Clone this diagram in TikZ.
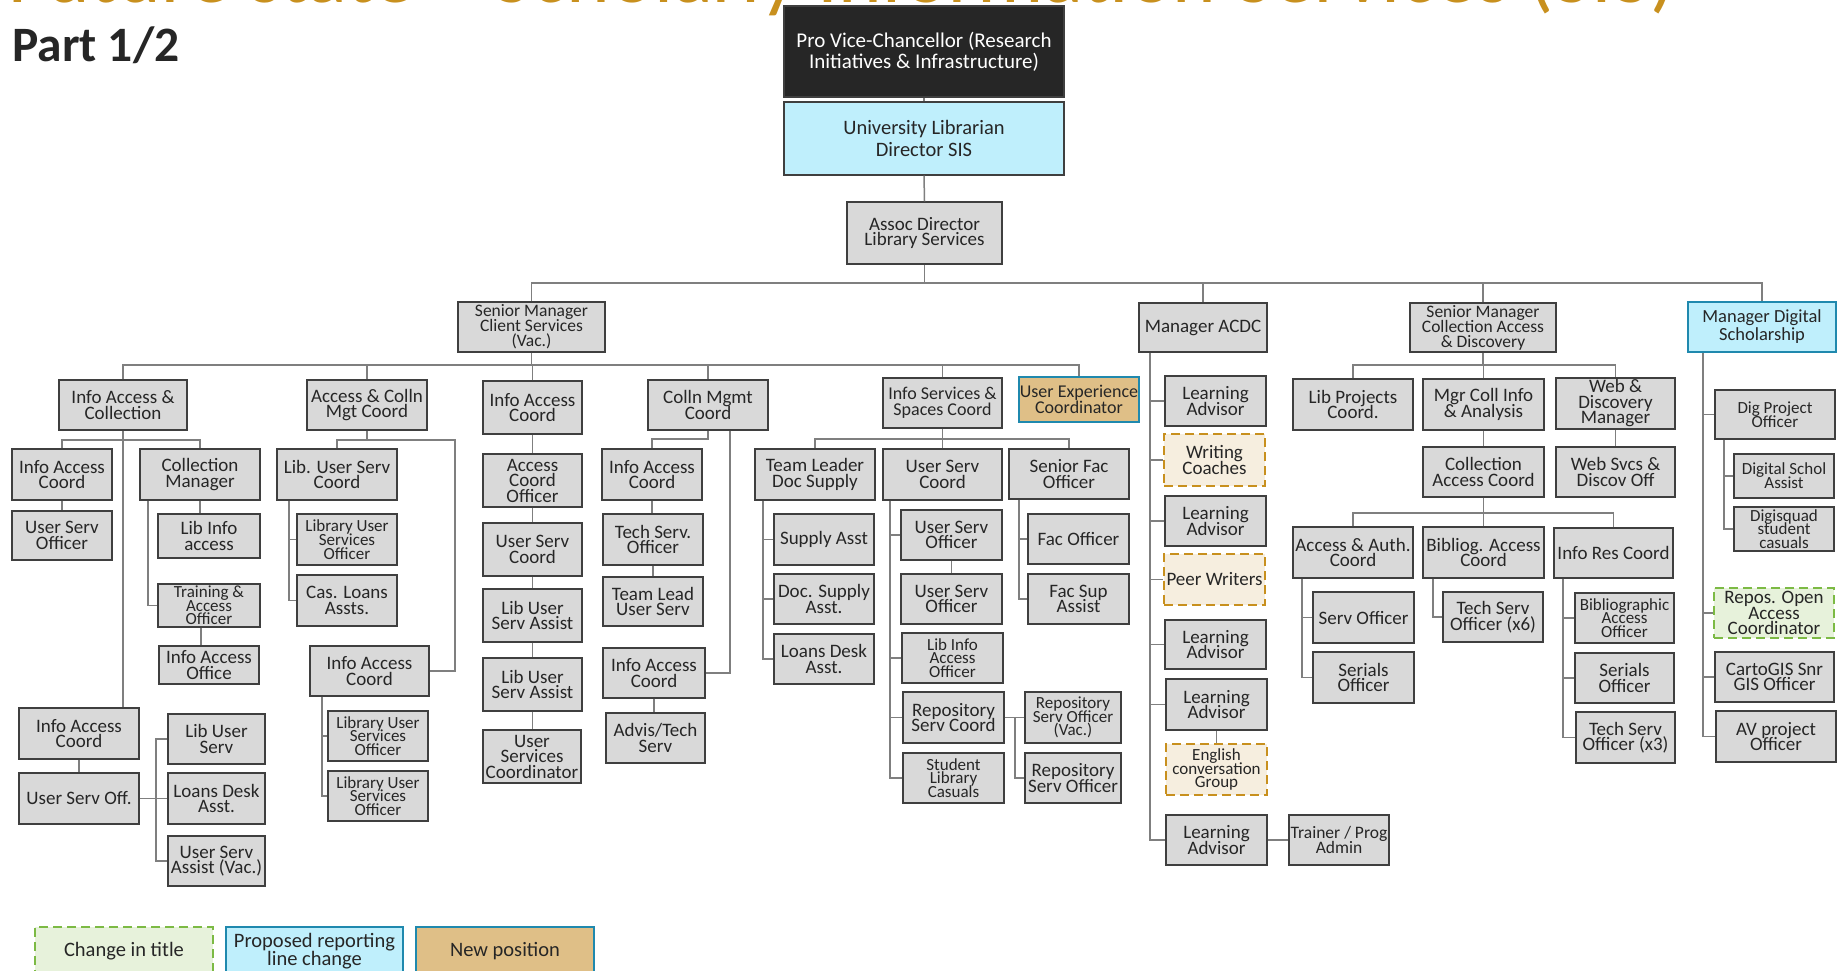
\documentclass[tikz,border=0pt]{standalone}
\usepackage{fontspec}
\setmainfont{Carlito}
\definecolor{boxfill}{HTML}{D9D9D9}
\definecolor{boxline}{HTML}{3F3F3F}
\definecolor{linkgray}{HTML}{7F7F7F}
\definecolor{ink}{HTML}{262626}
\definecolor{gold}{HTML}{C8901E}
\definecolor{cream}{HTML}{F6EEDF}
\definecolor{lime}{HTML}{7CBA44}
\definecolor{limefill}{HTML}{E7F2DB}
\definecolor{sky}{HTML}{BFEFFC}
\definecolor{teal}{HTML}{1F89AE}
\definecolor{tan}{HTML}{DFBF87}
\definecolor{night}{HTML}{262626}

\tikzset{
  box/.style={draw=boxline, fill=boxfill, line width=1.3pt, inner sep=0pt,
    align=center, text=ink, font=\fontsize{19}{15.5}\selectfont},
  t3/.style={font=\fontsize{17}{13.7}\selectfont},
  sm3/.style={font=\fontsize{17.5}{15}\selectfont},
  snug/.style={font=\fontsize{18}{15.5}\selectfont},
  conn/.style={draw=linkgray, line width=1.5pt},
  exec/.style={fill=night, draw=boxline, text=white, font=\fontsize{21}{21}\selectfont},
  librarian/.style={fill=sky, draw=boxline, font=\fontsize{20.5}{22}\selectfont},
  newrole/.style={draw=gold, fill=cream, dash pattern=on 9pt off 5pt, line width=2pt},
  retitled/.style={draw=lime, fill=limefill, dash pattern=on 9pt off 5pt, line width=2pt},
  reline/.style={draw=teal, fill=sky, line width=2pt},
  newpos/.style={draw=teal, fill=tan, line width=2pt},
  keytext/.style={font=\fontsize{20.5}{18}\selectfont},
}

% \bx[style]{x1}{y1}{x2}{y2}{name}{text}: a box given by its corners
\newcommand\bx[7][]{%
  \pgfmathsetmacro\bxw{#4-#2}\pgfmathsetmacro\bxh{#5-#3}%
  \pgfmathsetmacro\bxx{(#2+#4)/2}\pgfmathsetmacro\bxy{(#3+#5)/2}%
  \node[box,minimum width=\bxw pt,minimum height=\bxh pt,#1] (#6) at (\bxx,\bxy) {#7};}

\begin{document}
\lineskiplimit=-50pt
\lineskip=0pt
\begin{tikzpicture}[x=1pt,y=-1pt]
\path[use as bounding box] (0,0) rectangle (1838,971);
\clip (0,0) rectangle (1838,971);
\fill[white] (0,0) rectangle (1838,971);

% headings
\node[anchor=base west, inner sep=0pt, text=gold, font=\fontsize{83}{83}\selectfont] (title) at (8,3)
  {Future state – Scholarly Information Services (SIS)};
\node[anchor=base west, inner sep=0pt, text=ink, font=\fontsize{49.5}{49.5}\selectfont\bfseries] (part) at (12,62) {Part 1/2};

% executive line
\bx[exec]{784}{6}{1064}{97}{pvc}{Pro Vice-Chancellor (Research\\Initiatives \& Infrastructure)}
\bx[librarian]{784}{102}{1064}{175}{ul}{University Librarian\\Director SIS}
\bx{847}{202}{1002}{264}{assoc}{Assoc Director\\Library Services}

% managers
\bx[sm3]{458}{302}{605}{352}{smcs}{Senior Manager\\Client Services\\(Vac.)}
\bx{1139}{303}{1267}{352}{macdc}{Manager ACDC}
\bx[sm3]{1410}{303}{1556}{352}{smcad}{Senior Manager\\Collection Access\\\& Discovery}
\bx[reline,font=\fontsize{18.5}{18}\selectfont]{1688}{302}{1836}{352}{mds}{Manager Digital\\Scholarship}

% client services teams
\bx{59}{380}{187}{430}{iac}{Info Access \&\\Collection}
\bx{307}{380}{427}{430}{acm}{Access \& Colln\\Mgt Coord}
\bx{483}{381}{582}{434}{iac3}{Info Access\\Coord}
\bx{648}{380}{768}{430}{cmc}{Colln Mgmt\\Coord}
\bx[snug]{883}{378}{1002}{428}{issc}{Info Services \&\\Spaces Coord}
\bx[newpos,snug]{1019}{377}{1139}{422}{uxc}{User Experience\\Coordinator}

% info access & collection
\bx{12}{449}{112}{500}{iaca}{Info Access\\Coord}
\bx{12}{511}{112}{560}{usoa}{User Serv\\Officer}
\bx{140}{449}{260}{500}{colm}{Collection\\Manager}
\bx{158}{514}{260}{558}{lia}{Lib Info\\access}
\bx[t3]{158}{584}{260}{627}{tao}{Training \&\\Access\\Officer}
\bx{159}{646}{259}{684}{iao}{Info Access\\Office}
\bx{19}{708}{139}{759}{iacb}{Info Access\\Coord}
\bx{19}{773}{139}{824}{usoff}{User Serv Off.}
\bx{168}{714}{265}{764}{lus}{Lib User\\Serv}
\bx{168}{773}{265}{824}{lda}{Loans Desk\\Asst.}
\bx{168}{836}{265}{886}{usav}{User Serv\\Assist (Vac.)}

% access & colln mgt
\bx{277}{449}{397}{500}{lusc}{Lib. User Serv\\Coord}
\bx[t3]{297}{514}{397}{565}{luso1}{Library User\\Services\\Officer}
\bx{297}{575}{397}{626}{cla}{Cas. Loans\\Assts.}
\bx{310}{646}{429}{696}{iacc}{Info Access\\Coord}
\bx[t3]{328}{711}{428}{761}{luso2}{Library User\\Services\\Officer}
\bx[t3]{328}{771}{428}{821}{luso3}{Library User\\Services\\Officer}

% info access coord chain
\bx{483}{454}{582}{507}{ac3o}{Access\\Coord\\Officer}
\bx{483}{523}{582}{576}{usc3}{User Serv\\Coord}
\bx{483}{589}{582}{642}{lusa1}{Lib User\\Serv Assist}
\bx{483}{658}{582}{711}{lusa2}{Lib User\\Serv Assist}
\bx{483}{730}{581}{783}{usco}{User\\Services\\Coordinator}

% colln mgmt
\bx{602}{449}{702}{500}{iacd1}{Info Access\\Coord}
\bx{603}{514}{703}{565}{tso}{Tech Serv.\\Officer}
\bx{603}{577}{703}{626}{tlus}{Team Lead\\User Serv}
\bx{603}{648}{705}{698}{iacd2}{Info Access\\Coord}
\bx{606}{713}{705}{763}{atsv}{Advis/Tech\\Serv}

% info services & spaces
\bx{755}{449}{875}{500}{tlds}{Team Leader\\Doc Supply}
\bx{883}{449}{1002}{500}{usce}{User Serv\\Coord}
\bx{1009}{449}{1129}{499}{sfo}{Senior Fac\\Officer}
\bx{774}{514}{874}{565}{sa}{Supply Asst}
\bx{774}{574}{874}{624}{dsa}{Doc. Supply\\Asst.}
\bx{774}{634}{874}{684}{ldb}{Loans Desk\\Asst.}
\bx{901}{510}{1002}{560}{useo1}{User Serv\\Officer}
\bx{901}{574}{1002}{624}{useo2}{User Serv\\Officer}
\bx[t3]{902}{633}{1003}{683}{liao}{Lib Info\\Access\\Officer}
\bx{903}{692}{1004}{743}{rsc}{Repository\\Serv Coord}
\bx[t3]{903}{753}{1004}{803}{slc}{Student\\Library\\Casuals}
\bx[t3]{1025}{692}{1121}{743}{rsov}{Repository\\Serv Officer\\(Vac.)}
\bx{1025}{753}{1121}{803}{rso}{Repository\\Serv Officer}
\bx{1028}{514}{1129}{564}{fo}{Fac Officer}
\bx{1028}{574}{1129}{624}{fsa}{Fac Sup\\Assist}

% ACDC
\bx{1165}{376}{1266}{426}{la1}{Learning\\Advisor}
\bx[newrole]{1164}{434}{1265}{486}{wc}{Writing\\Coaches}
\bx{1165}{496}{1266}{546}{la2}{Learning\\Advisor}
\bx[newrole]{1164}{554}{1265}{605}{pw}{Peer Writers}
\bx{1165}{620}{1266}{669}{la3}{Learning\\Advisor}
\bx{1166}{679}{1267}{730}{la4}{Learning\\Advisor}
\bx[newrole,t3]{1166}{744}{1267}{795}{ecg}{English\\conversation\\Group}
\bx{1166}{815}{1267}{865}{la5}{Learning\\Advisor}
\bx[font=\fontsize{17.5}{15.5}\selectfont]{1289}{815}{1389}{865}{tpa}{Trainer / Prog\\Admin}

% collection access & discovery
\bx{1293}{379}{1413}{430}{lpc}{Lib Projects\\Coord.}
\bx{1423}{379}{1544}{430}{mcia}{Mgr Coll Info\\\& Analysis}
\bx{1556}{378}{1675}{429}{wdm}{Web \&\\Discovery\\Manager}
\bx{1556}{447}{1675}{497}{wsdo}{Web Svcs \&\\Discov Off}
\bx{1423}{447}{1544}{497}{cac}{Collection\\Access Coord}
\bx{1293}{527}{1413}{578}{aac}{Access \& Auth.\\Coord}
\bx{1423}{527}{1544}{578}{bac}{Bibliog. Access\\Coord}
\bx{1554}{528}{1673}{578}{irc}{Info Res Coord}
\bx{1313}{592}{1414}{643}{so}{Serv Officer}
\bx{1313}{652}{1414}{703}{sero}{Serials\\Officer}
\bx{1443}{592}{1543}{642}{tso6}{Tech Serv\\Officer (x6)}
\bx[t3]{1575}{593}{1674}{643}{bao}{Bibliographic\\Access\\Officer}
\bx{1575}{653}{1674}{703}{serb}{Serials\\Officer}
\bx{1576}{712}{1675}{763}{tso3}{Tech Serv\\Officer (x3)}

% digital scholarship
\bx[t3]{1715}{390}{1835}{439}{dpo}{Dig Project\\Officer}
\bx[t3]{1734}{454}{1834}{498}{dsas}{Digital Schol\\Assist}
\bx[t3]{1734}{507}{1834}{551}{dsc}{Digisquad\\student\\casuals}
\bx[retitled]{1714}{588}{1834}{638}{rooac}{Repos. Open\\Access\\Coordinator}
\bx{1715}{652}{1834}{702}{cgis}{CartoGIS Snr\\GIS Officer}
\bx{1716}{711}{1836}{762}{avpo}{AV project\\Officer}

% key
\bx[retitled,keytext]{35}{927}{213}{976}{key1}{Change in title}
\bx[reline,keytext]{226}{927}{403}{976}{key2}{Proposed reporting\\line change}
\bx[newpos,keytext]{416}{927}{594}{976}{key3}{New position}

% ---------- reporting lines ----------
\draw[conn] (pvc.south) -- (ul.north);
\draw[conn] (ul.south) -- (assoc.north);
\draw[conn] (assoc.south) -- (assoc.south |- 0,283);
\draw[conn] (smcs.north) -- (smcs.north |- 0,283) -| (mds.north);
\draw[conn] (macdc.north) -- (macdc.north |- 0,283);
\draw[conn] (smcad.north) -- (smcad.north |- 0,283);

% client services
\draw[conn] (smcs.south) -- (smcs.south |- 0,365);
\draw[conn] (iac.north) -- (iac.north |- 0,365) -| (uxc.north);
\foreach \n in {acm,iac3,cmc,issc} \draw[conn] (\n.north) -- (\n.north |- 0,365);

% info access & collection
\draw[conn] (iac.south) -- (iac.south |- iacb.north);
\draw[conn] (iaca.north) -- (iaca.north |- 0,440) -| (colm.north);
\draw[conn] (iaca.south) -- (usoa.north);
\draw[conn] (colm.south) -- (colm.south |- lia.north);
\draw[conn] (colm.south -| 148,0) |- (tao.west);
\draw[conn] (tao.south -| 201,0) -- (iao.north -| 201,0);
\draw[conn] (iacb.south) -- (iacb.south |- usoff.north);
\draw[conn] (usoff.east) -- (lda.west);
\draw[conn] (lus.west) -- (lus.west -| 156,0) |- (usav.west);

% access & colln mgt
\draw[conn] (acm.south) -- (acm.south |- 0,440);
\draw[conn] (lusc.north) -- (lusc.north |- 0,440) -- (455,440) |- (iacc.east);
\draw[conn] (lusc.south -| 289,0) |- (cla.west);
\draw[conn] (luso1.west) -- (luso1.west -| 289,0);
\draw[conn] (iacc.south -| 322,0) |- (luso3.west);
\draw[conn] (luso2.west) -- (luso2.west -| 322,0);

% info access coord chain
\draw[conn] (iac3.south) -- (iac3.south |- ac3o.north);
\draw[conn] (ac3o.south) -- (ac3o.south |- usc3.north);
\draw[conn] (usc3.south) -- (usc3.south |- lusa1.north);
\draw[conn] (lusa1.south) -- (lusa1.south |- lusa2.north);
\draw[conn] (lusa2.south) -- (lusa2.south |- usco.north);

% colln mgmt
\draw[conn] (cmc.south) -- (cmc.south |- 0,439) -| (iacd1.north);
\draw[conn] (cmc.south -| 730,0) |- (iacd2.east);
\draw[conn] (iacd1.south) -- (iacd1.south |- tso.north);
\draw[conn] (tso.south) -- (tso.south |- tlus.north);
\draw[conn] (iacd2.south) -- (iacd2.south |- atsv.north);

% info services & spaces
\draw[conn] (issc.south) -- (issc.south |- 0,439);
\draw[conn] (tlds.north) -- (tlds.north |- 0,439) -| (sfo.north);
\draw[conn] (usce.north) -- (usce.north |- 0,439);
\draw[conn] (tlds.south -| 763,0) |- (ldb.west);
\foreach \n in {sa,dsa} \draw[conn] (\n.west) -- (\n.west -| 763,0);
\draw[conn] (usce.south -| 890,0) |- (slc.west);
\foreach \n in {useo1,liao,rsc} \draw[conn] (\n.west) -- (\n.west -| 890,0);
\draw[conn] (useo1.south) -- (useo1.south |- useo2.north);
\draw[conn] (rsc.east) -- (rsov.west);
\draw[conn] (rsc.east -| 1015,0) |- (rso.west);
\draw[conn] (sfo.south -| 1019,0) |- (fsa.west);
\draw[conn] (fo.west) -- (fo.west -| 1019,0);

% ACDC
\draw[conn] (macdc.south -| 1150,0) |- (la5.west);
\foreach \n in {la1,wc,la2,pw,la3,la4} \draw[conn] (\n.west) -- (\n.west -| 1150,0);
\draw[conn] (la4.south) -- (la4.south |- ecg.north);
\draw[conn] (la5.east) -- (tpa.west);

% collection access & discovery
\draw[conn] (smcad.south) -- (smcad.south |- 0,365);
\draw[conn] (lpc.north) -- (lpc.north |- 0,365) -| (wdm.north);
\draw[conn] (mcia.north) -- (mcia.north |- 0,365);
\draw[conn] (mcia.south) -- (mcia.south |- cac.north);
\draw[conn] (wdm.south) -- (wdm.south |- wsdo.north);
\draw[conn] (cac.south) -- (cac.south |- 0,513);
\draw[conn] (aac.north) -- (aac.north |- 0,513) -| (irc.north);
\draw[conn] (bac.north) -- (bac.north |- 0,513);
\draw[conn] (aac.south -| 1302,0) |- (sero.west);
\draw[conn] (so.west) -- (so.west -| 1302,0);
\draw[conn] (bac.south -| 1433,0) |- (tso6.west);
\draw[conn] (irc.south -| 1563,0) |- (tso3.west);
\foreach \n in {bao,serb} \draw[conn] (\n.west) -- (\n.west -| 1563,0);

% digital scholarship
\draw[conn] (mds.south -| 1703,0) |- (avpo.west);
\foreach \n in {dpo,rooac,cgis} \draw[conn] (\n.west) -- (\n.west -| 1703,0);
\draw[conn] (dpo.south -| 1724,0) |- (dsc.west);
\draw[conn] (dsas.west) -- (dsas.west -| 1724,0);
\end{tikzpicture}
\end{document}
